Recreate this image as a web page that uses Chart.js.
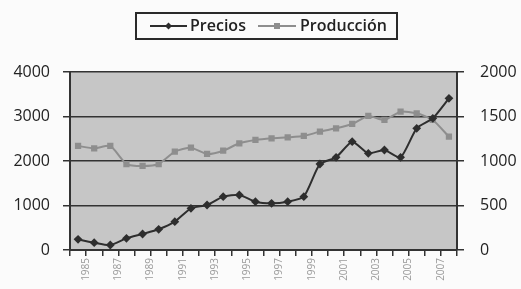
<!DOCTYPE html>
<html>
<head>
<meta charset="utf-8">
<script src="https://cdn.jsdelivr.net/npm/chart.js@4.4.1/dist/chart.umd.min.js"></script>
<style>
  html, body { margin: 0; padding: 0; background: #fbfbfb; }
  #wrap { width: 521px; height: 289px; position: relative; }
</style>
</head>
<body>
<div id="wrap"><canvas id="chart"></canvas></div>
<script>
// categories (x labels are unreadable in the scan, years used)
const years = ['1985', '1986', '1987', '1988', '1989', '1990', '1991', '1992',
  '1993', '1994', '1995', '1996', '1997', '1998', '1999', '2000',
  '2001', '2002', '2003', '2004', '2005', '2006', '2007', '2008'];

// left axis
const precios = [240, 165, 112, 262, 360, 465, 637, 936, 1011, 1199, 1236, 1086,
  1049, 1086, 1199, 1933, 2082, 2434, 2172, 2247, 2082, 2734, 2959, 3408];

// right axis
const produccion = [1169, 1142, 1169, 966, 944, 966, 1105, 1150, 1079, 1116, 1199, 1236,
  1255, 1266, 1281, 1330, 1367, 1416, 1506, 1461, 1554, 1536, 1461, 1273];

const leftTicks = [0, 1000, 2000, 3000, 4000];
const rightTicks = [0, 500, 1000, 1500, 2000];

const seriesNames = ['Precios', 'Producción'];

const plotBg = {
  id: 'plotBg',
  beforeDraw(chart) {
    const { ctx, chartArea: a } = chart;
    ctx.save();
    ctx.fillStyle = '#c6c6c6';
    ctx.fillRect(a.left, a.top, a.right - a.left, a.bottom - a.top);
    ctx.restore();
  }
};

// legend with a framed box, line + marker like the original
const boxLegend = {
  id: 'boxLegend',
  afterDraw(chart) {
    const ctx = chart.ctx;
    ctx.save();
    ctx.strokeStyle = '#2a2a2a';
    ctx.lineWidth = 2;
    ctx.strokeRect(136, 13, 261, 26);

    ctx.font = '600 16px "Open Sans"';
    ctx.textBaseline = 'middle';
    ctx.fillStyle = '#222';

    const items = [
      { x0: 150, x1: 187, tx: 190, ds: chart.data.datasets[0] },
      { x0: 258, x1: 296, tx: 300, ds: chart.data.datasets[1] }
    ];
    items.forEach(it => {
      const y = 26;
      ctx.strokeStyle = it.ds.borderColor;
      ctx.lineWidth = 2;
      ctx.beginPath();
      ctx.moveTo(it.x0, y);
      ctx.lineTo(it.x1, y);
      ctx.stroke();
      const mx = (it.x0 + it.x1) / 2;
      ctx.fillStyle = it.ds.pointBackgroundColor;
      ctx.beginPath();
      if (it.ds.pointStyle === 'rectRot') {
        ctx.moveTo(mx, y - 3.5); ctx.lineTo(mx + 3.5, y); ctx.lineTo(mx, y + 3.5); ctx.lineTo(mx - 3.5, y);
      } else {
        ctx.rect(mx - 3, y - 3, 6, 6);
      }
      ctx.fill();
      ctx.fillStyle = '#222';
      ctx.fillText(it.ds.label, it.tx, y);
    });
    ctx.restore();
  }
};

new Chart(document.getElementById('chart'), {
  type: 'line',
  data: {
    labels: years,
    datasets: [
      {
        label: seriesNames[0],
        data: precios,
        yAxisID: 'yL',
        borderColor: '#2e2e2e',
        backgroundColor: '#2e2e2e',
        pointBackgroundColor: '#2e2e2e',
        pointBorderColor: '#2e2e2e',
        pointStyle: 'rectRot',
        pointRadius: 3,
        borderWidth: 2,
        tension: 0.2
      },
      {
        label: seriesNames[1],
        data: produccion,
        yAxisID: 'yR',
        borderColor: '#8e8e8e',
        backgroundColor: '#8e8e8e',
        pointBackgroundColor: '#8e8e8e',
        pointBorderColor: '#8e8e8e',
        pointStyle: 'rect',
        pointRadius: 3,
        borderWidth: 2,
        tension: 0.2
      }
    ]
  },
  options: {
    responsive: true,
    maintainAspectRatio: false,
    animation: false,
    devicePixelRatio: 1,
    layout: { padding: { top: 72, left: 0, right: 0, bottom: 0 } },
    plugins: {
      legend: { display: false },
      tooltip: { enabled: false }
    },
    scales: {
      x: {
        type: 'category',
        offset: true,
        grid: {
          offset: true,
          drawOnChartArea: false,
          color: '#333',
          lineWidth: 1.5,
          tickLength: 6
        },
        border: { color: '#333', width: 2 },
        ticks: {
          autoSkip: false,
          minRotation: 90,
          maxRotation: 90,
          labelOffset: 8,
          padding: 2,
          color: '#9a9a9a',
          font: { family: 'Open Sans', size: 10 },
          callback: function (v, i) { return i % 2 === 0 ? this.getLabelForValue(v) : ''; }
        },
        afterFit: s => { s.height = 39; }
      },
      yL: {
        position: 'left',
        min: 0,
        max: 4000,
        afterBuildTicks: s => { s.ticks = leftTicks.map(v => ({ value: v })); },
        grid: { color: '#333', lineWidth: 1.5, tickLength: 7 },
        border: { color: '#333', width: 2 },
        ticks: {
          padding: 13,
          color: '#222',
          font: { family: 'Open Sans', size: 16 },
          callback: v => String(v)
        },
        afterFit: s => { s.width = 70; }
      },
      yR: {
        position: 'right',
        min: 0,
        max: 2000,
        afterBuildTicks: s => { s.ticks = rightTicks.map(v => ({ value: v })); },
        grid: { drawOnChartArea: false, color: '#333', lineWidth: 1.5, tickLength: 7 },
        border: { color: '#333', width: 2 },
        ticks: {
          padding: 16,
          color: '#222',
          font: { family: 'Open Sans', size: 16 },
          callback: v => String(v)
        },
        afterFit: s => { s.width = 64; }
      }
    }
  },
  plugins: [plotBg, boxLegend]
});
</script>
</body>
</html>
